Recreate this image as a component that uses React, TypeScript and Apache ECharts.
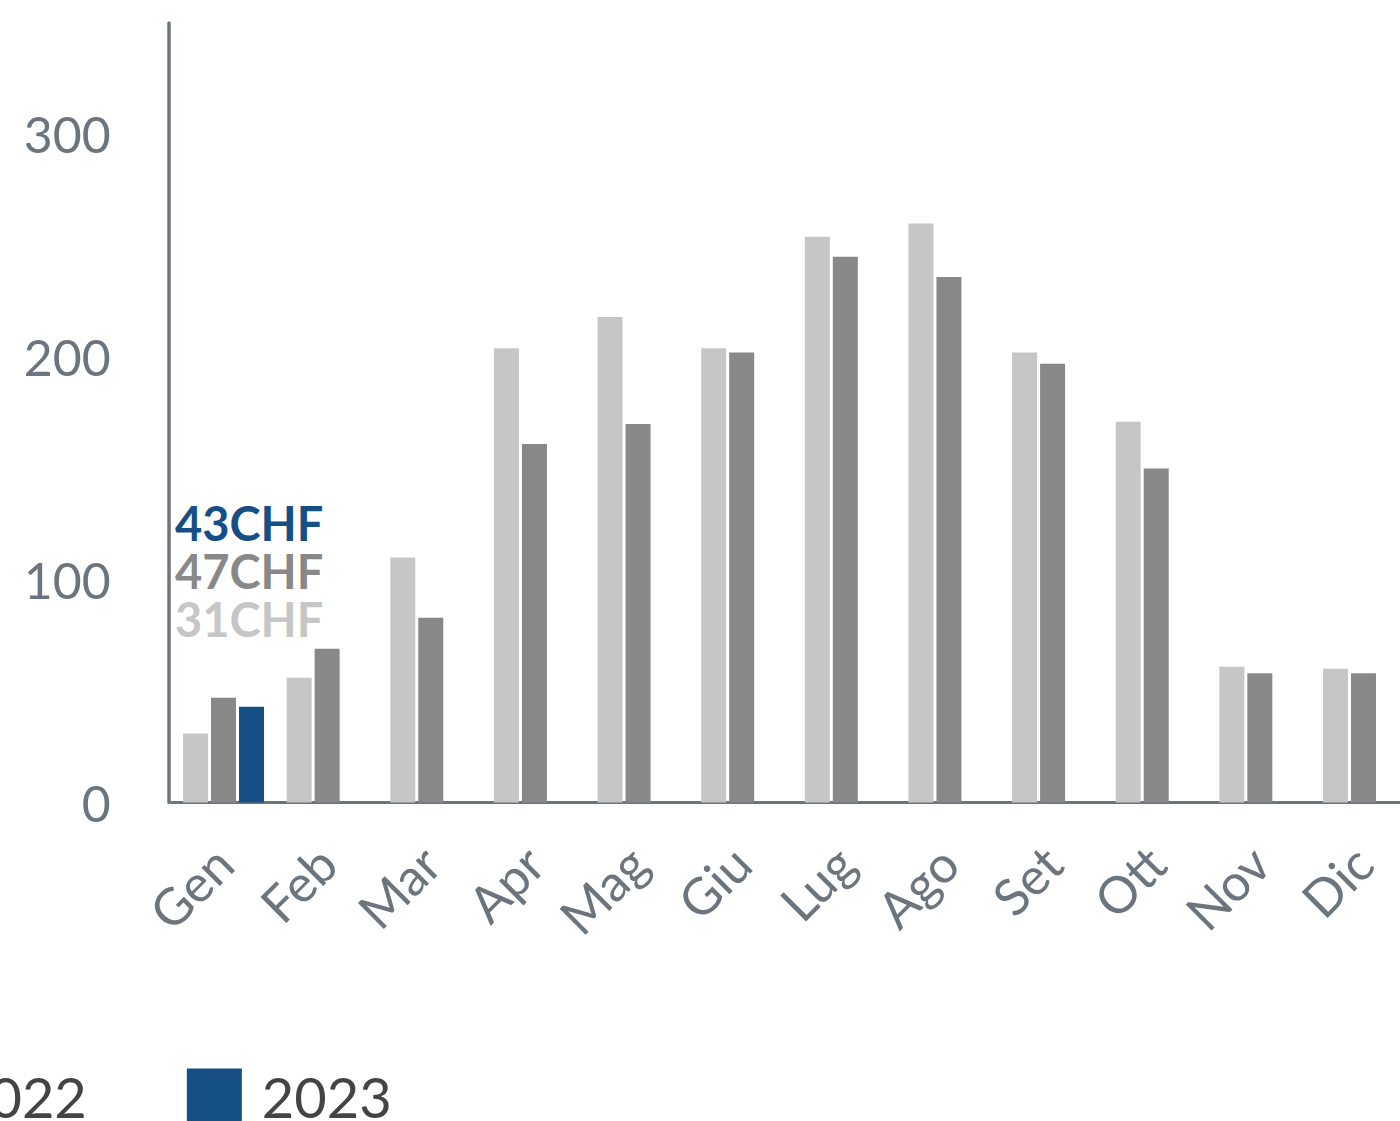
import React, { useEffect, useRef } from "react";
import * as echarts from "echarts";

const months = ["Gen", "Feb", "Mar", "Apr", "Mag", "Giu", "Lug", "Ago", "Set", "Ott", "Nov", "Dic"];
const years = ["2021", "2022", "2023"];
const values2021 = [31, 56, 110, 204, 218, 204, 254, 260, 202, 171, 61, 60];
const values2022 = [47, 69, 83, 161, 170, 202, 245, 236, 197, 150, 58, 58];
const values2023 = [43, null, null, null, null, null, null, null, null, null, null, null];
const colors = ["#c6c6c6", "#888888", "#154f86"];
const unit = "CHF";

const OFFSET_X = 450;

export default function App() {
  const ref = useRef<HTMLDivElement>(null);
  useEffect(() => {
    if (!ref.current) return;
    const chart = echarts.init(ref.current, undefined, { renderer: "svg" });
    const seriesValues = [values2021, values2022, values2023];
    const labelOrder = [2, 1, 0];
    chart.setOption({
      animation: false,
      textStyle: { fontFamily: "Lato" },
      grid: { left: OFFSET_X + 171.7, width: 1243.6, top: 23, height: 779.5 },
      legend: {
        left: OFFSET_X - 428,
        top: 1063,
        icon: "rect",
        itemWidth: 55,
        itemHeight: 55,
        itemGap: 100,
        data: years,
        textStyle: { color: "#444444", fontSize: 56, fontFamily: "Lato", padding: [0, 0, 0, 15] },
      },
      xAxis: {
        type: "category",
        data: months,
        axisLine: { lineStyle: { color: "#6c757d", width: 3 } },
        axisTick: { show: false },
        axisLabel: { rotate: 45, color: "#6c757d", fontSize: 51, fontFamily: "Lato", margin: 52, interval: 0 },
      },
      yAxis: {
        type: "value",
        min: 0,
        max: 350,
        interval: 100,
        offset: 3,
        axisLine: { show: true, lineStyle: { color: "#6c757d", width: 3.5 } },
        axisTick: { show: false },
        splitLine: { show: false },
        axisLabel: { color: "#6c757d", fontSize: 50, fontFamily: "Lato", margin: 58, showMaxLabel: false },
      },
      graphic: labelOrder.map((si, i) => ({
        type: "text",
        x: OFFSET_X + 175,
        y: 523 + i * 48,
        style: {
          text: `${seriesValues[si][0]}${unit}`,
          fill: colors[si],
          fontSize: 47,
          fontWeight: "bold",
          fontFamily: "Lato",
          verticalAlign: "middle",
          align: "left",
        },
      })),
      series: years.map((y, i) => ({
        name: y,
        type: "bar",
        data: seriesValues[i],
        barWidth: 25,
        barGap: "12%",
        itemStyle: { color: colors[i] },
      })),
    });
    return () => chart.dispose();
  }, []);
  return (
    <div style={{ position: "fixed", left: 0, top: 0, right: 0, bottom: 0, overflow: "hidden", background: "#fff" }}>
      <div ref={ref} style={{ position: "absolute", left: -OFFSET_X, top: 0, width: 1900, height: 1180 }} />
    </div>
  );
}
